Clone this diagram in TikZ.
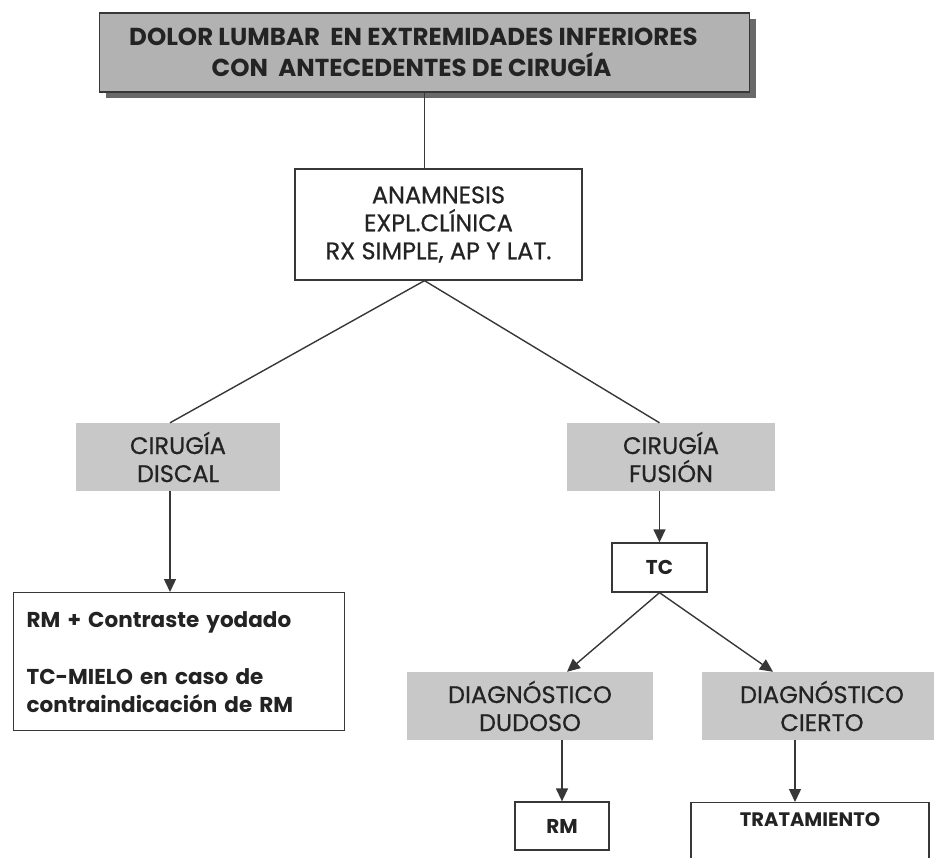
\documentclass[tikz,border=0pt]{standalone}
\usepackage{fontspec}
\setmainfont{Poppins}
\newfontfamily\midfont{Poppins}[FakeBold=0.6]
\usetikzlibrary{arrows.meta,shadows}
\definecolor{ink}{RGB}{35,35,35}
\definecolor{wire}{RGB}{55,55,55}
\definecolor{boxgray}{RGB}{200,200,200}
\definecolor{titlegray}{RGB}{178,178,178}
\definecolor{shadowgray}{RGB}{105,105,105}
\tikzset{
  every node/.style={text=ink, inner sep=0pt, align=center},
  headbox/.style={draw=wire, line width=1.6pt, fill=titlegray,
    drop shadow={shadow xshift=6pt, shadow yshift=-6pt, fill=shadowgray, opacity=1},
    font=\bfseries\fontsize{24.5}{31}\selectfont},
  plainbox/.style={draw=wire, line width=1.3pt, fill=white,
    font=\midfont\fontsize{24}{28}\selectfont},
  graybox/.style={fill=boxgray, font=\midfont\fontsize{24}{28}\selectfont},
  smallbox/.style={draw=wire, line width=1.3pt, fill=white,
    font=\bfseries\fontsize{20}{20}\selectfont},
  link/.style={draw=wire, line width=1.4pt},
  arrow/.style={link, -{Triangle[length=13pt,width=12pt]}},
}
\begin{document}
\begin{tikzpicture}[x=1pt,y=-1pt]
\useasboundingbox (0,0) rectangle (934,857);

% header and first examination (lines set slightly left of the box centre)
\node[headbox, minimum width=650pt, minimum height=79pt] (title) at (424.5,52.5)
  {DOLOR LUMBAR \ EN EXTREMIDADES INFERIORES\hspace*{22pt}\\
   CON \ ANTECEDENTES DE CIRUGÍA\hspace*{26pt}};
\node[plainbox, minimum width=287pt, minimum height=111pt] (anam) at (438.5,224.5)
  {ANAMNESIS\\EXPL.CLÍNICA\\RX SIMPLE, AP Y LAT.};

% surgical branches
\node[graybox, minimum width=204pt, minimum height=68pt] (discal) at (178,457)
  {CIRUGÍA\\DISCAL};
\node[graybox, minimum width=208pt, minimum height=68pt] (fusion) at (671,457)
  {CIRUGÍA\\FUSIÓN};

% left branch result
\node[draw=wire, line width=1.3pt, fill=white, anchor=north west,
  minimum width=331pt, minimum height=138pt, align=left, text width=305pt,
  font=\bfseries\fontsize{21.5}{28}\selectfont] (rmc) at (13,592)
  {RM + Contraste yodado\\[29pt]TC-MIELO en caso de\\contraindicación de RM};

% right branch
\node[smallbox, minimum width=95pt, minimum height=49pt] (tc) at (659.5,567.5) {TC};
\node[graybox, minimum width=246pt, minimum height=68pt] (dud) at (530,706)
  {DIAGNÓSTICO\\DUDOSO};
\node[graybox, minimum width=240pt, minimum height=68pt] (cert) at (822,706)
  {DIAGNÓSTICO\\CIERTO};
\node[smallbox, minimum width=94pt, minimum height=48pt] (rm) at (562,826) {RM};
\node[smallbox, minimum width=238pt, anchor=north, text height=15pt, text depth=60pt,
  inner ysep=9pt, font=\bfseries\fontsize{19.5}{20}\selectfont] (trat) at (810,802)
  {TRATAMIENTO};

% connector end points
\coordinate (discalx) at ([xshift=-8pt]discal.north);
\coordinate (tratx) at ([xshift=-15pt]trat.north);
\coordinate (dudin) at ([xshift=37pt]dud.north);
\coordinate (certin) at ([xshift=-49pt]cert.north);

% connectors
\draw[link] (title.south) -- (title.south |- anam.north);
\draw[link] (title.south |- anam.south) -- (discalx);
\draw[link] (title.south |- anam.south) -- (tc.north |- fusion.north);
\draw[arrow] (discalx |- discal.south) -- (discalx |- rmc.north);
\draw[arrow] (tc.north |- fusion.south) -- (tc.north);
\draw[arrow] (tc.south) -- (dudin);
\draw[arrow] (tc.south) -- (certin);
\draw[arrow] (rm.north |- dud.south) -- (rm.north);
\draw[arrow] (tratx |- cert.south) -- (tratx);
\end{tikzpicture}
\end{document}
